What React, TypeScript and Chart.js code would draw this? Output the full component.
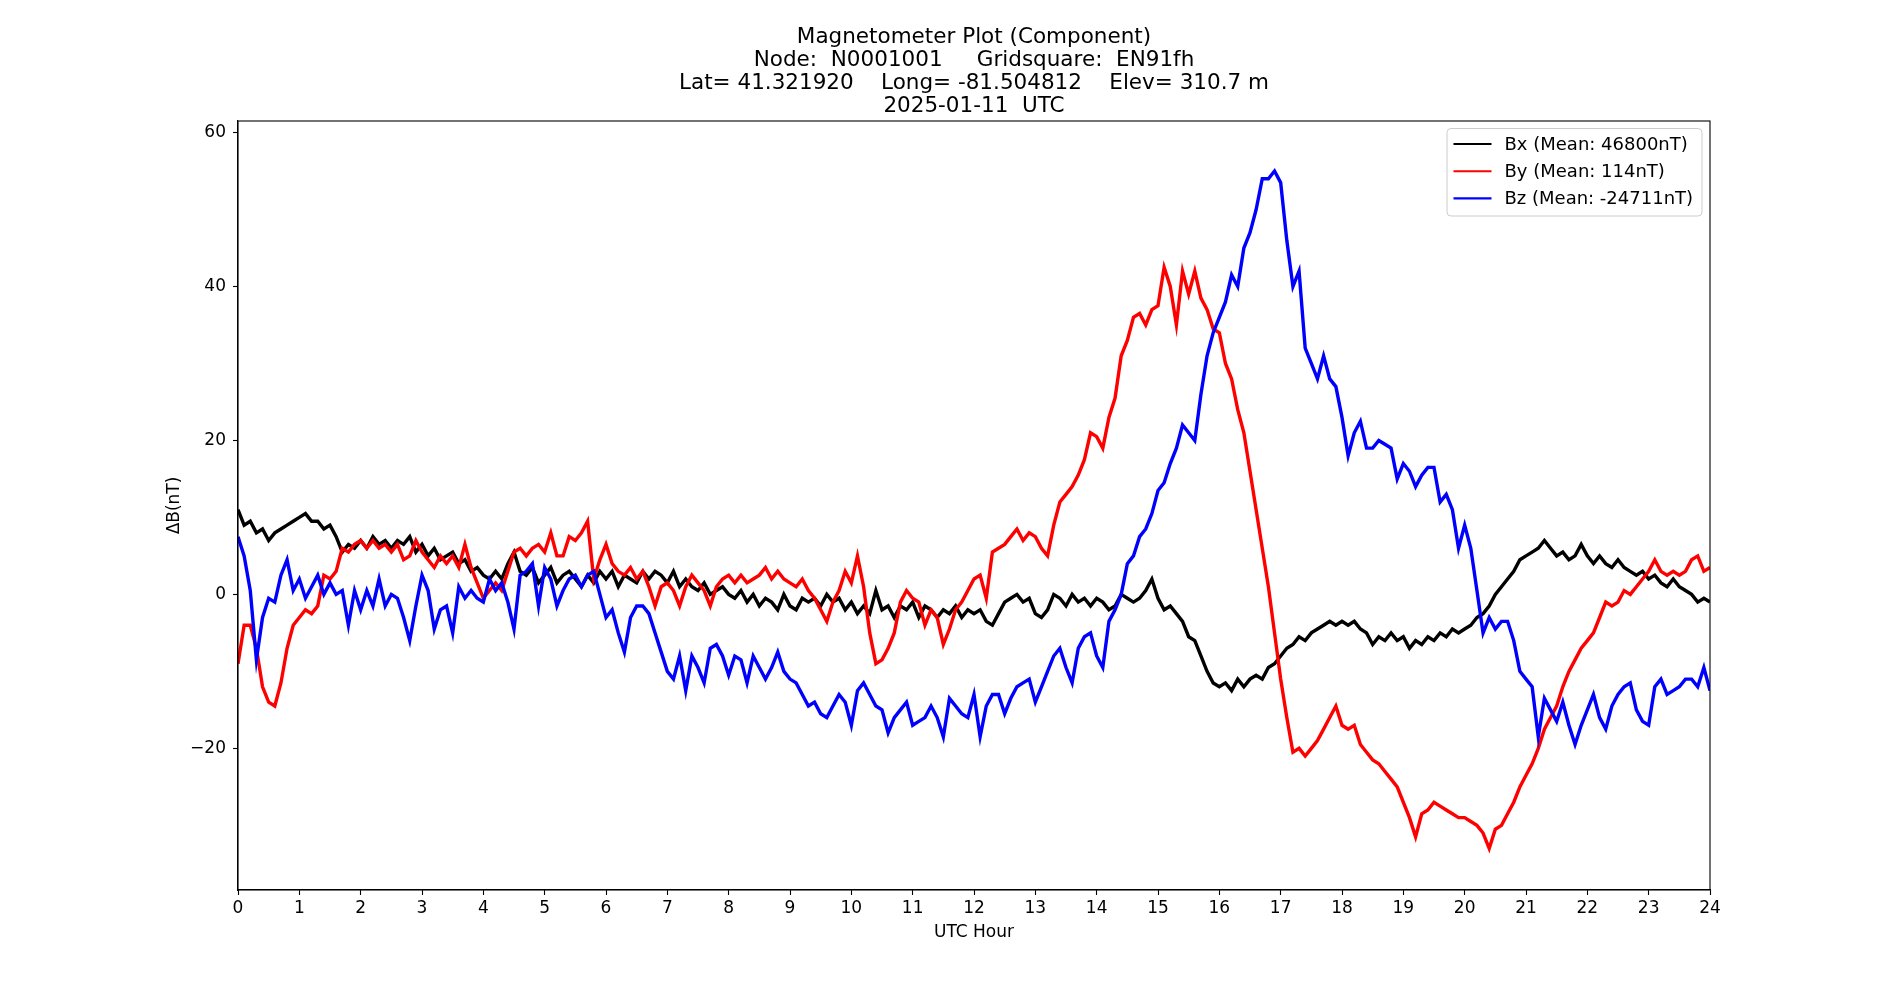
import React, { useEffect, useRef } from "react";
import { Chart, registerables } from "chart.js";

Chart.register(...registerables);

const TITLE_LINES = [
  "Magnetometer Plot (Component)",
  "Node:  N0001001     Gridsquare:  EN91fh",
  "Lat= 41.321920    Long= -81.504812    Elev= 310.7 m",
  "2025-01-11  UTC",
];
const SERIES_LABELS = ["Bx (Mean: 46800nT)", "By (Mean: 114nT)", "Bz (Mean: -24711nT)"];
const SERIES_COLORS = ["#000000", "#ff0000", "#0000ff"];
const X_TITLE = "UTC Hour";
const Y_TITLE = "ΔB(nT)";
const X_TICKS = [0, 1, 2, 3, 4, 5, 6, 7, 8, 9, 10, 11, 12, 13, 14, 15, 16, 17, 18, 19, 20, 21, 22, 23, 24];
const Y_TICKS = [-20, 0, 20, 40, 60];
const X_MIN = 0;
const X_MAX = 24;
const Y_MIN = -38.4;
const Y_MAX = 61.5;
const SAMPLE_STEP_HOURS = 0.1;

// Bx, sampled every 0.1 h (rows = hours 0..23, last value = 24.0)
const BX = [
  11, 9, 9.5, 8, 8.5, 7, 8, 8.5, 9, 9.5,
  10, 10.5, 9.5, 9.5, 8.5, 9, 7.5, 5.5, 6.5, 6,
  7, 6, 7.5, 6.5, 7, 6, 7, 6.5, 7.5, 5.5,
  6.5, 5, 6, 4.5, 5, 5.5, 4, 4.5, 3, 3.5,
  2.5, 2, 3, 2, 4, 5.5, 3, 2.5, 3.5, 1.5,
  2.5, 3.5, 1.5, 2.5, 3, 2, 1, 2.5, 1.5, 3,
  2, 3, 1, 2.5, 2, 1.5, 3, 2, 3, 2.5,
  1.5, 3, 1, 2, 1, 0.5, 1.5, 0, 0.5, 1,
  0, -0.5, 0.5, -1, 0, -1.5, -0.5, -1, -2, 0,
  -1.5, -2, -0.5, -1, -0.5, -1.5, 0, -1, -0.5, -2,
  -1, -2.5, -1.5, -2.5, 0.5, -2, -1.5, -3, -1.5, -2,
  -1, -3, -1.5, -2, -3, -2, -2.5, -1.5, -3, -2,
  -2.5, -2, -3.5, -4, -2.5, -1, -0.5, 0, -1, -0.5,
  -2.5, -3, -2, 0, -0.5, -1.5, 0, -1, -0.5, -1.5,
  -0.5, -1, -2, -1.5, 0, -0.5, -1, -0.5, 0.5, 2,
  -0.5, -2, -1.5, -2.5, -3.5, -5.5, -6, -8, -10, -11.5,
  -12, -11.5, -12.5, -11, -12, -11, -10.5, -11, -9.5, -9,
  -8, -7, -6.5, -5.5, -6, -5, -4.5, -4, -3.5, -4,
  -3.5, -4, -3.5, -4.5, -5, -6.5, -5.5, -6, -5, -6,
  -5.5, -7, -6, -6.5, -5.5, -6, -5, -5.5, -4.5, -5,
  -4.5, -4, -3, -2.5, -1.5, 0, 1, 2, 3, 4.5,
  5, 5.5, 6, 7, 6, 5, 5.5, 4.5, 5, 6.5,
  5, 4, 5, 4, 3.5, 4.5, 3.5, 3, 2.5, 3,
  2, 2.5, 1.5, 1, 2, 1, 0.5, 0, -1, -0.5,
  -1,
];

const BY = [
  -9, -4, -4, -7, -12, -14, -14.5, -11.5, -7, -4,
  -3, -2, -2.5, -1.5, 2.5, 2, 3, 6, 5.5, 6.5,
  7, 6, 7, 6, 6.5, 5.5, 6.5, 4.5, 5, 7,
  5.5, 4.5, 3.5, 5, 4, 5, 3.5, 6.5, 3.5, 1.5,
  -0.5, 0.5, 1.5, 0.5, 3, 5.5, 6, 5, 6, 6.5,
  5.5, 8, 5, 5, 7.5, 7, 8, 9.5, 2, 4.5,
  6.5, 4, 3, 2.5, 3.5, 2, 3, 1, -1.5, 1,
  1.5, 0.5, -1.5, 1, 2.5, 1.5, 0.5, -1.5, 1, 2,
  2.5, 1.5, 2.5, 1.5, 2, 2.5, 3.5, 2, 3, 2,
  1.5, 1, 2, 0.5, -0.5, -2, -3.5, -1, 0.5, 3,
  1.5, 5, 1, -5, -9, -8.5, -7, -5, -1, 0.5,
  -0.5, -1, -4, -2, -3, -6.5, -4.5, -2, -1, 0.5,
  2, 2.5, -0.5, 5.5, 6, 6.5, 7.5, 8.5, 7, 8,
  7.5, 6, 5, 9, 12, 13, 14, 15.5, 17.5, 21,
  20.5, 19, 23, 25.5, 31, 33, 36, 36.5, 35, 37,
  37.5, 42.5, 40, 35, 42, 39, 42, 38.5, 37, 34.5,
  34, 30, 28, 24, 21, 16, 11, 6, 1, -5,
  -11, -16, -20.5, -20, -21, -20, -19, -17.5, -16, -14.5,
  -17, -17.5, -17, -19.5, -20.5, -21.5, -22, -23, -24, -25,
  -27, -29, -31.5, -28.5, -28, -27, -27.5, -28, -28.5, -29,
  -29, -29.5, -30, -31, -33, -30.5, -30, -28.5, -27, -25,
  -23.5, -22, -20, -17.5, -16, -14.5, -12, -10, -8.5, -7,
  -6, -5, -3, -1, -1.5, -1, 0.5, 0, 1, 2,
  3, 4.5, 3, 2.5, 3, 2.5, 3, 4.5, 5, 3,
  3.5,
];

const BZ = [
  7.5, 5, 0.5, -8.5, -3, -0.5, -1, 2.5, 4.5, 0.5,
  2, -0.5, 1, 2.5, 0, 1.5, 0, 0.5, -4, 0.5,
  -2, 0.5, -1.5, 2, -1.5, 0, -0.5, -3, -6, -1.5,
  2.5, 0.5, -4.5, -2, -1.5, -5, 1, -0.5, 0.5, -0.5,
  -1, 2, 0.5, 1.5, -1, -4.5, 2.5, 3, 4, -1.5,
  3.5, 2, -1.5, 0.5, 2, 2.5, 1, 2.5, 3, 0,
  -3, -2, -5, -7.5, -3, -1.5, -1.5, -2.5, -5, -7.5,
  -10, -11, -8, -12.5, -8, -9.5, -11.5, -7, -6.5, -8,
  -10.5, -8, -8.5, -11.5, -8, -9.5, -11, -9.5, -7.5, -10,
  -11, -11.5, -13, -14.5, -14, -15.5, -16, -14.5, -13, -14,
  -17, -12.5, -11.5, -13, -14.5, -15, -18, -16, -15, -14,
  -17, -16.5, -16, -14.5, -16, -18.5, -13.5, -14.5, -15.5, -16,
  -13, -18.5, -14.5, -13, -13, -15.5, -13.5, -12, -11.5, -11,
  -14, -12, -10, -8, -7, -9.5, -11.5, -7, -5.5, -5,
  -8, -9.5, -3.5, -2, 0, 4, 5, 7.5, 8.5, 10.5,
  13.5, 14.5, 17, 19, 22, 21, 20, 26, 31, 34,
  36, 38, 41.5, 40, 45, 47, 50, 54, 54, 55,
  53.5, 46, 40, 42, 32, 30, 28, 31, 28, 27,
  23, 18, 21, 22.5, 19, 19, 20, 19.5, 19, 15,
  17, 16, 14, 15.5, 16.5, 16.5, 12, 13, 11, 6,
  9, 6, 0.5, -5, -3, -4.5, -3.5, -3.5, -6, -10,
  -11, -12, -18.5, -13.5, -15, -16.5, -14, -17, -19.5, -17,
  -15, -13, -16, -17.5, -14.5, -13, -12, -11.5, -15, -16.5,
  -17, -12, -11, -13, -12.5, -12, -11, -11, -12, -9.5,
  -12.5,
];

const FONT = "'DejaVu Sans', 'Liberation Sans', sans-serif";

const frameAndLegendPlugin = {
  id: "frameAndLegend",
  afterDatasetsDraw(chart: any) {
    const { ctx, chartArea: a } = chart;
    ctx.save();
    ctx.strokeStyle = "#000";
    ctx.lineWidth = 1.1;
    ctx.strokeRect(a.left, a.top, a.right - a.left, a.bottom - a.top);
    ctx.restore();
  },
  afterDraw(chart: any) {
    const { ctx, chartArea: a } = chart;
    const bw = 255;
    const bh = 87.5;
    const bx = a.right - 8 - bw;
    const by = a.top + 7.5;
    const r = 4;
    ctx.save();
    ctx.beginPath();
    ctx.moveTo(bx + r, by);
    ctx.lineTo(bx + bw - r, by);
    ctx.quadraticCurveTo(bx + bw, by, bx + bw, by + r);
    ctx.lineTo(bx + bw, by + bh - r);
    ctx.quadraticCurveTo(bx + bw, by + bh, bx + bw - r, by + bh);
    ctx.lineTo(bx + r, by + bh);
    ctx.quadraticCurveTo(bx, by + bh, bx, by + bh - r);
    ctx.lineTo(bx, by + r);
    ctx.quadraticCurveTo(bx, by, bx + r, by);
    ctx.closePath();
    ctx.fillStyle = "rgba(255,255,255,0.8)";
    ctx.fill();
    ctx.strokeStyle = "#cccccc";
    ctx.lineWidth = 1;
    ctx.stroke();
    ctx.font = `18px ${FONT}`;
    ctx.textBaseline = "middle";
    ctx.textAlign = "left";
    chart.data.datasets.forEach((ds: any, i: number) => {
      const y = by + 15.5 + i * 27.2;
      ctx.beginPath();
      ctx.strokeStyle = ds.borderColor;
      ctx.lineWidth = 2.1;
      ctx.moveTo(bx + 6.5, y);
      ctx.lineTo(bx + 44.5, y);
      ctx.stroke();
      ctx.fillStyle = "#000";
      ctx.fillText(ds.label, bx + 57.5, y + 1);
    });
    ctx.restore();
  },
};

export default function App() {
  const canvasRef = useRef<HTMLCanvasElement | null>(null);

  useEffect(() => {
    const canvas = canvasRef.current;
    if (!canvas) return;
    const hours = BX.map((_, i) => Math.round(i * SAMPLE_STEP_HOURS * 100) / 100);
    const toPoints = (vals: number[]) => vals.map((v, i) => ({ x: hours[i], y: v }));
    const series = [BX, BY, BZ];

    const chart = new Chart(canvas, {
      type: "line",
      data: {
        datasets: series.map((vals, i) => ({
          label: SERIES_LABELS[i],
          data: toPoints(vals),
          borderColor: SERIES_COLORS[i],
          backgroundColor: SERIES_COLORS[i],
          borderWidth: 3.4,
          borderJoinStyle: "miter",
          pointRadius: 0,
          tension: 0,
          fill: false,
          order: 2 - i,
        })),
      },
      options: {
        responsive: false,
        animation: false,
        devicePixelRatio: 1,
        layout: { padding: { left: 0, right: 190, top: 0, bottom: 0 } },
        plugins: {
          legend: { display: false },
          tooltip: { enabled: false },
          title: {
            display: true,
            text: TITLE_LINES,
            fullSize: false,
            color: "#000",
            font: { family: FONT, size: 21.5, weight: "normal", lineHeight: 23.2 / 21.5 },
            padding: { top: 25.6, bottom: 2.6 },
          },
        },
        scales: {
          x: {
            type: "linear",
            min: X_MIN,
            max: X_MAX,
            afterBuildTicks: (s: any) => {
              s.ticks = X_TICKS.map((v) => ({ value: v }));
            },
            afterFit: (s: any) => {
              s.height = 110;
            },
            grid: {
              display: true,
              drawOnChartArea: false,
              drawTicks: true,
              tickLength: 5,
              tickWidth: 1.1,
              tickColor: "#000",
            },
            border: { display: true, color: "#000", width: 1.1 },
            ticks: {
              color: "#000",
              font: { family: FONT, size: 17 },
              padding: 3,
              maxRotation: 0,
              autoSkip: false,
              callback: (v: any) => String(v),
            },
            title: {
              display: true,
              text: X_TITLE,
              color: "#000",
              font: { family: FONT, size: 17 },
              padding: { top: 0, bottom: 57 },
            },
          },
          y: {
            type: "linear",
            min: Y_MIN,
            max: Y_MAX,
            afterBuildTicks: (s: any) => {
              s.ticks = Y_TICKS.map((v) => ({ value: v }));
            },
            afterFit: (s: any) => {
              s.width = 238;
            },
            grid: {
              display: true,
              drawOnChartArea: false,
              drawTicks: true,
              tickLength: 5,
              tickWidth: 1.1,
              tickColor: "#000",
            },
            border: { display: true, color: "#000", width: 1.1 },
            ticks: {
              color: "#000",
              font: { family: FONT, size: 17 },
              padding: 7,
              autoSkip: false,
              callback: (v: any) => String(v).replace("-", "\u2212"),
            },
            title: {
              display: true,
              text: Y_TITLE,
              color: "#000",
              font: { family: FONT, size: 17 },
              padding: { top: 164, bottom: 0 },
            },
          },
        },
      },
      plugins: [frameAndLegendPlugin],
    } as any);

    return () => {
      chart.destroy();
    };
  }, []);

  return (
    <div style={{ position: "fixed", left: 0, top: 0, width: 1900, height: 1000, background: "#fff" }}>
      <canvas ref={canvasRef} width={1900} height={1000} style={{ display: "block", width: 1900, height: 1000 }} />
    </div>
  );
}
